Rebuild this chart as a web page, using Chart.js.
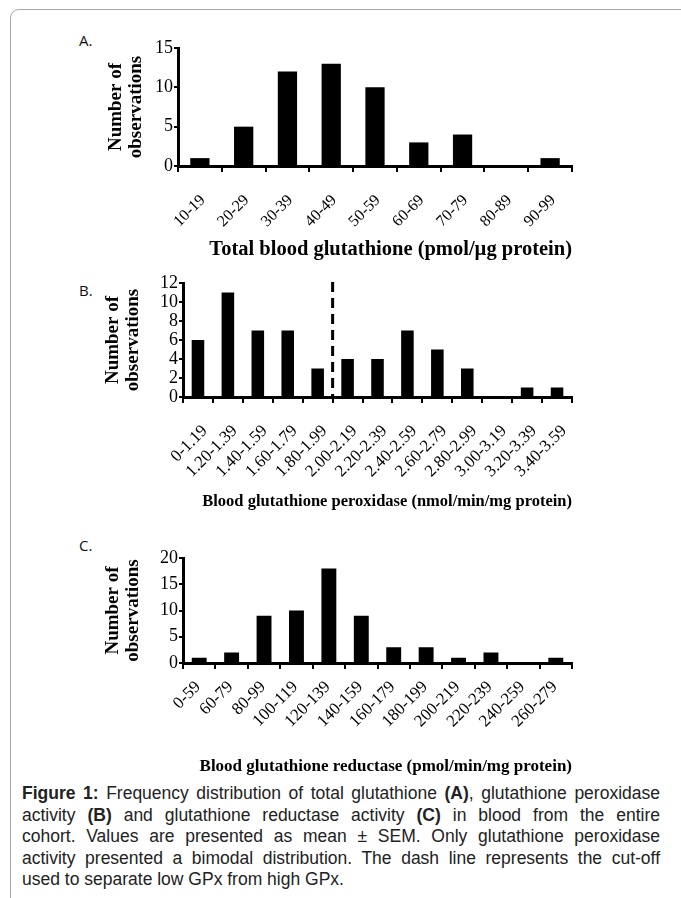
<!DOCTYPE html>
<html>
<head>
<meta charset="utf-8">
<script src="https://cdn.jsdelivr.net/npm/chart.js@4/dist/chart.umd.min.js"></script>
<style>
  html, body { margin: 0; padding: 0; background: #fff; }
  body { width: 681px; height: 898px; position: relative; overflow: hidden; }
  .frame { position: absolute; left: 10px; top: 9px; width: 720px; height: 920px;
           border: 1px solid #a6a6a6; border-radius: 9px 0 0 0; box-sizing: border-box; }
  canvas.panel { position: absolute; left: 0; }
  .plabel { position: absolute; left: 79px; font-family: "Open Sans", "Liberation Sans", sans-serif; font-size: 15px; color: #111; }
  .caption { position: absolute; left: 22px; top: 783px; width: 638px; font-family: "Liberation Sans", Arial, sans-serif;
             font-size: 17.5px; line-height: 21.5px; color: #222; }
  .caption div { text-align: justify; text-align-last: justify; }
  .caption div.last { text-align-last: left; }
</style>
</head>
<body>
<div class="frame"></div>
<div class="plabel" style="top:30px">A.</div>
<div class="plabel" style="top:280px">B.</div>
<div class="plabel" style="top:535px">C.</div>
<canvas id="cA" class="panel" style="top:30px" width="681" height="231"></canvas>
<canvas id="cB" class="panel" style="top:270px" width="681" height="241"></canvas>
<canvas id="cC" class="panel" style="top:535px" width="681" height="241"></canvas>
<div class="caption">
<div><b>Figure 1:</b> Frequency distribution of total glutathione <b>(A)</b>, glutathione peroxidase</div>
<div>activity <b>(B)</b> and glutathione reductase activity <b>(C)</b> in blood from the entire</div>
<div>cohort. Values are presented as mean ± SEM. Only glutathione peroxidase</div>
<div>activity presented a bimodal distribution. The dash line represents the cut-off</div>
<div class="last">used to separate low GPx from high GPx.</div>
</div>
<script>
// ---- data ----
const catsA = ["10-19","20-29","30-39","40-49","50-59","60-69","70-79","80-89","90-99"];
const valsA = [1,5,12,13,10,3,4,0,1];
const catsB = ["0-1.19","1.20-1.39","1.40-1.59","1.60-1.79","1.80-1.99","2.00-2.19","2.20-2.39","2.40-2.59","2.60-2.79","2.80-2.99","3.00-3.19","3.20-3.39","3.40-3.59"];
const valsB = [6,11,7,7,3,4,4,7,5,3,0,1,1];
const catsC = ["0-59","60-79","80-99","100-119","120-139","140-159","160-179","180-199","200-219","220-239","240-259","260-279"];
const valsC = [1,2,9,10,18,9,3,3,1,2,0,1];
const yTitle = ["Number of", "observations"];
const xTitleA = "Total blood glutathione (pmol/µg protein)";
const xTitleB = "Blood glutathione peroxidase (nmol/min/mg protein)";
const xTitleC = "Blood glutathione reductase (pmol/min/mg protein)";
const cutoffB = 4.5; // between "1.80-1.99" and "2.00-2.19"

const SERIF = "'Liberation Serif', 'Times New Roman', serif";

const dashPlugin = {
  id: 'cutoff',
  afterDatasetsDraw(chart, args, opts) {
    if (opts.value == null) return;
    const {ctx, chartArea, scales} = chart;
    const x = scales.x.getPixelForValue(opts.value);
    ctx.save();
    ctx.strokeStyle = '#000';
    ctx.lineWidth = 3;
    ctx.setLineDash([10, 6]);
    ctx.beginPath();
    ctx.moveTo(x, chartArea.top - 1);
    ctx.lineTo(x, chartArea.bottom);
    ctx.stroke();
    ctx.restore();
  }
};

function makeChart(id, cats, vals, cfg) {
  return new Chart(document.getElementById(id), {
    type: 'bar',
    data: { labels: cats, datasets: [{ data: vals, backgroundColor: '#000', borderWidth: 0,
      categoryPercentage: 1, barPercentage: cfg.barPct }] },
    plugins: [dashPlugin],
    options: {
      responsive: false, animation: false,
      layout: { padding: { top: cfg.top, right: 681 - cfg.right, left: 0, bottom: 0 } },
      plugins: { legend: { display: false }, tooltip: { enabled: false }, cutoff: { value: cfg.cutoff } },
      scales: {
        x: {
          grid: { drawOnChartArea: false, drawTicks: true, tickLength: 6, color: '#000', lineWidth: 2, offset: true },
          border: { display: true, color: '#000', width: 3 },
          ticks: { color: '#000', font: { family: SERIF, size: cfg.xTickSize }, minRotation: 45, maxRotation: 45,
                   autoSkip: false, padding: cfg.tickPad, labelOffset: cfg.labelOffset },
          title: { display: true, text: cfg.xTitle, align: 'end', color: '#000',
                   font: { family: SERIF, size: cfg.xTitleSize, weight: 'bold', lineHeight: 1.1 }, padding: 0 },
          afterFit(s) { s.height = cfg.xH; }
        },
        y: {
          min: 0, max: cfg.max,
          grid: { drawOnChartArea: false, drawTicks: true, tickLength: 4, color: '#000', lineWidth: 2 },
          border: { display: true, color: '#000', width: 3 },
          ticks: { stepSize: cfg.step, autoSkip: false, color: '#000', font: { family: SERIF, size: 18 }, padding: 1 },
          title: { display: true, text: yTitle, color: '#000', font: { family: SERIF, size: 19, weight: 'bold', lineHeight: 1.05 },
                   padding: { top: cfg.yTitleX, bottom: 0 } },
          afterFit(s) { s.width = cfg.left; }
        }
      }
    }
  });
}

makeChart('cA', catsA, valsA, { top: 18, right: 572, left: 178, xH: 95, max: 15, step: 5, barPct: 0.44,
  xTitle: xTitleA, xTitleSize: 20.5, yTitleX: 106, tickPad: 19, labelOffset: 3, xTickSize: 16 });
makeChart('cB', catsB, valsB, { top: 13, right: 572, left: 183, xH: 114, max: 12, step: 2, barPct: 0.42,
  xTitle: xTitleB, xTitleSize: 16.5, yTitleX: 103, tickPad: 18, labelOffset: 7, xTickSize: 17, cutoff: cutoffB });
makeChart('cC', catsC, valsC, { top: 23, right: 572, left: 183, xH: 113, max: 20, step: 5, barPct: 0.46,
  xTitle: xTitleC, xTitleSize: 17, yTitleX: 103, tickPad: 8, labelOffset: -1, xTickSize: 17 });
</script>
</body>
</html>
